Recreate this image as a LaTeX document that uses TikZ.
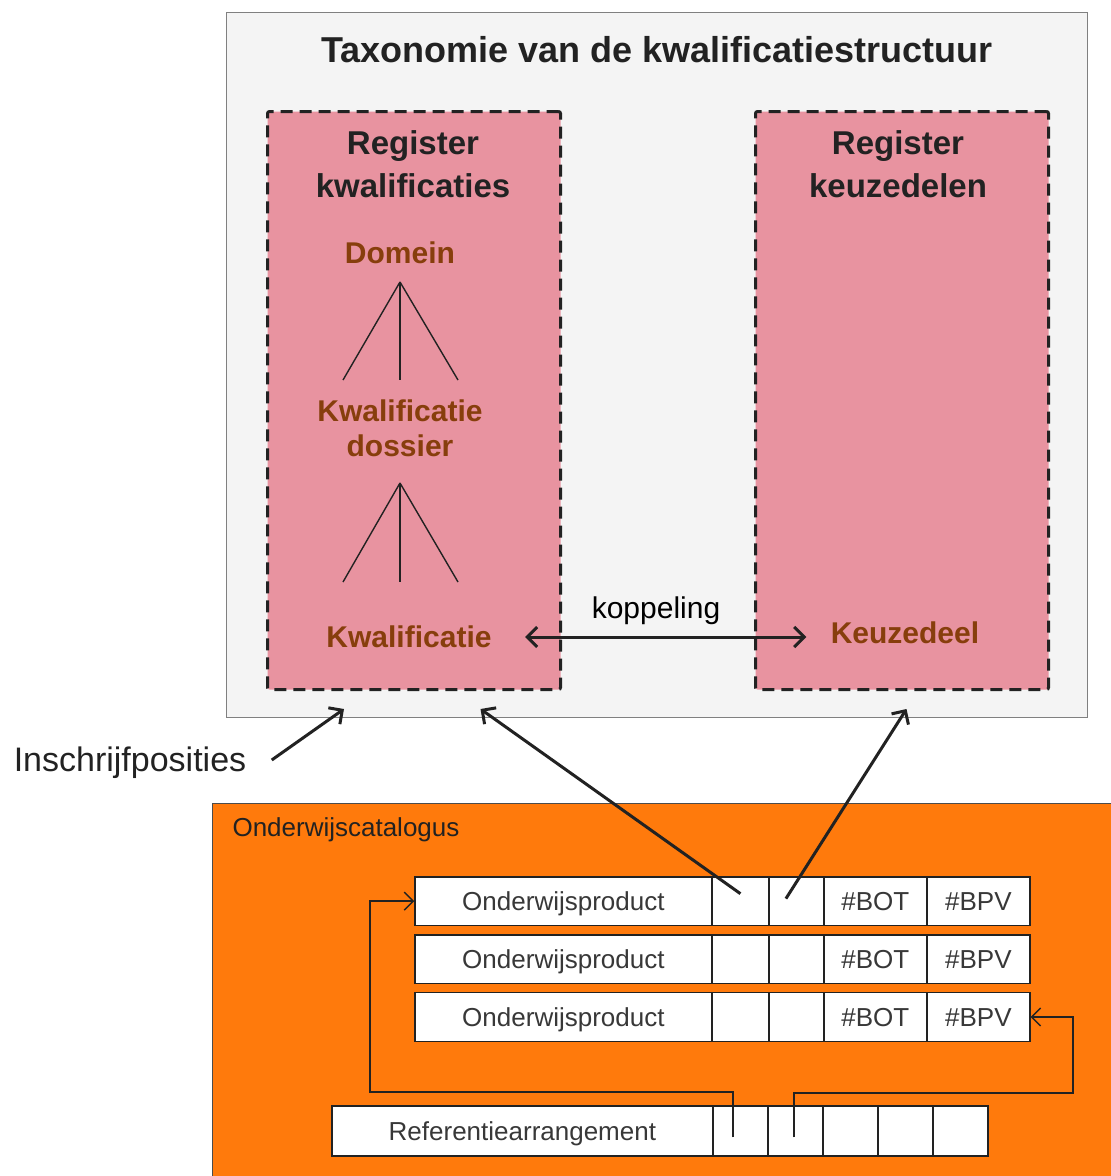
\documentclass[tikz,border=0pt]{standalone}
\usepackage{fontspec}
\setmainfont{Liberation Sans}
\usetikzlibrary{matrix, arrows.meta, positioning}
\definecolor{panelgray}{RGB}{244,244,244}
\definecolor{regpink}{RGB}{232,147,160}
\definecolor{levelbrown}{RGB}{135,62,12}
\definecolor{catorange}{RGB}{255,122,12}
\definecolor{inkgray}{RGB}{34,34,34}

\begin{document}
\begin{tikzpicture}[x=1pt, y=-1pt, >={Straight Barb[length=10pt,width=20pt]},
  reg/.style={draw=inkgray, line width=3pt, dash pattern=on 12pt off 7pt, fill=regpink,
    rounded corners=2pt, minimum width=293pt, minimum height=578pt, anchor=north west, inner sep=0pt},
  head/.style={font=\fontsize{33}{43}\selectfont\bfseries, text=inkgray, align=center},
  level/.style={font=\fontsize{30}{35}\selectfont\bfseries, text=levelbrown, align=center},
  branch/.style={line width=1.4pt, draw=inkgray},
  link/.style={line width=3pt, draw=inkgray, ->},
  wire/.style={line width=1.4pt, draw=inkgray, -{Straight Barb[length=9pt,width=18pt]}},
  cell/.style={draw=inkgray, line width=1.4pt, fill=white, inner sep=0pt, anchor=center,
    text height=19pt, text depth=0pt, font=\fontsize{26}{30}\selectfont, text=inkgray!90}]

\useasboundingbox (0,0) rectangle (1111,1176);

% taxonomie
\node[draw=gray, line width=1.2pt, fill=panelgray, minimum width=861pt, minimum height=705pt,
  anchor=north west] (taxo) at (226,12) {};
\node[head, font=\fontsize{36}{43}\selectfont\bfseries] (title) at (657,50) {Taxonomie van de kwalificatiestructuur};

\node[reg] (regQ) at (266,110) {};
\node[reg] (regK) at (754,110) {};
\node[head] (headQ) at (413,164) {Register\\kwalificaties};
\node[head] (headK) at (898,164) {Register\\keuzedelen};

\node[level] (domein) at (400,253) {Domein};
\node[level] (dossier) at (400,428) {Kwalificatie\\dossier};
\node[level] (kwal) at (409,637) {Kwalificatie};
\node[level] (keuze) at (905,633) {Keuzedeel};

\coordinate (apexA) at (400,282);
\coordinate (apexB) at (400,483);
\foreach \dx in {-57,0,58} {
  \draw[branch] (apexA) -- ++(\dx,98);
  \draw[branch] (apexB) -- ++(\dx,99);
}

\node[font=\fontsize{30}{34}\selectfont] (koppel) at (656,611) {koppeling};
\draw[link, <->] ([xshift=30pt]kwal.east) -- ([xshift=-21pt]kwal.east -| keuze.west);

% catalogus
\node[draw=gray!60!black, line width=1pt, fill=catorange, minimum width=902pt, minimum height=380pt,
  anchor=north west] (cat) at (212,803) {};
\node[anchor=west, font=\fontsize{26}{30}\selectfont, text=inkgray] (catname) at (229,830) {Onderwijscatalogus};

\matrix (prod) [matrix of nodes, nodes in empty cells, anchor=north west, inner sep=0pt,
  column sep=-1.4pt, row sep=8pt, nodes={cell, minimum height=48.5pt},
  column 1/.style={nodes={minimum width=297pt}},
  column 2/.style={nodes={minimum width=57pt}},
  column 3/.style={nodes={minimum width=55pt}},
  column 4/.style={nodes={minimum width=103pt}},
  column 5/.style={nodes={minimum width=103pt}}] at (414,876)
{
Onderwijsproduct & & & \#BOT & \#BPV \\
Onderwijsproduct & & & \#BOT & \#BPV \\
Onderwijsproduct & & & \#BOT & \#BPV \\
};

\matrix (ref) [matrix of nodes, nodes in empty cells, anchor=north west, inner sep=0pt,
  column sep=-1.4pt, nodes={cell, minimum height=50pt, minimum width=55pt},
  column 1/.style={nodes={minimum width=381pt}}] at (331,1105)
{
Referentiearrangement & & & & & \\
};

\coordinate (bendL) at (370,1092);
\coordinate (bendR) at (1073,1093);
\draw[wire] ([xshift=-7.5pt,yshift=-6.5pt]ref-1-2.center) |- (bendL) |- (prod-1-1.west);
\draw[wire] ([xshift=-1.5pt,yshift=-6.5pt]ref-1-3.center) |- (bendR) |- (prod-3-5.east);

% inschrijfposities
\node[font=\fontsize{34}{38}\selectfont, text=inkgray] (insch) at (130,763) {Inschrijfposities};
\draw[link] ([xshift=22pt,yshift=3pt]insch.east) -- ([xshift=-70pt,yshift=-18pt]regQ.south);
\draw[link] ([yshift=7.5pt]prod-1-2.center) -- ([xshift=66.5pt,yshift=-18pt]regQ.south);
\draw[link] ([xshift=-10.5pt,yshift=2.5pt]prod-1-3.center) -- ([xshift=4.5pt,yshift=-18pt]regK.south);
\end{tikzpicture}
\end{document}
